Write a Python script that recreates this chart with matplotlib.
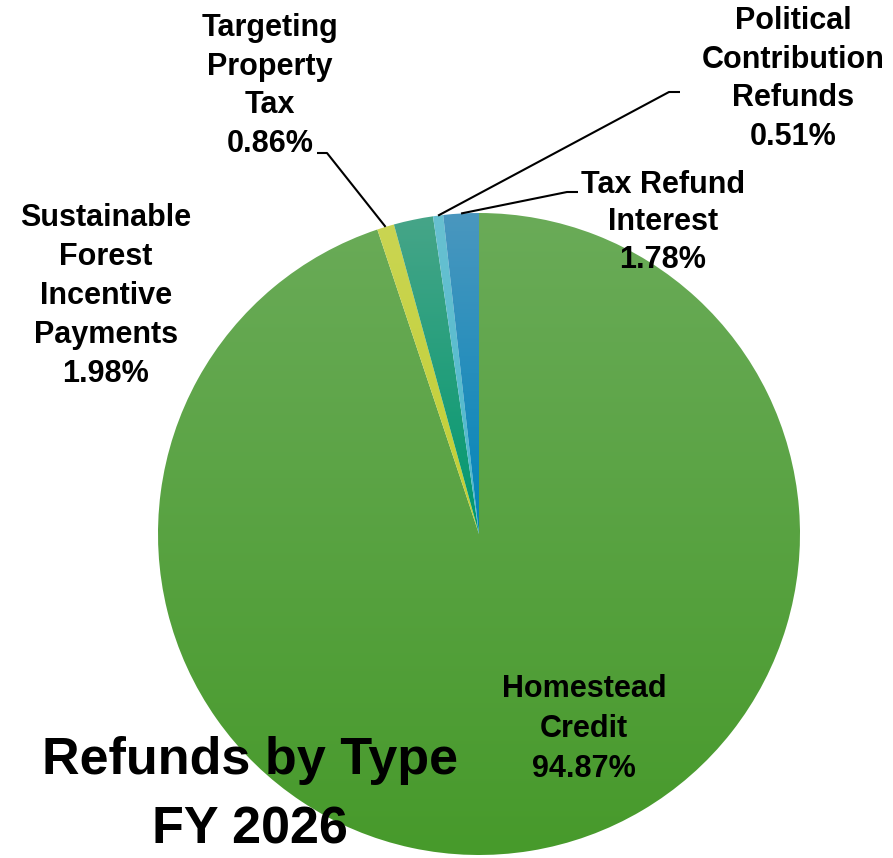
import matplotlib.pyplot as plt
import numpy as np
from matplotlib.colors import to_rgb

W, H = 893, 858

# Refund shares, in pie order (clockwise from 12 o'clock)
categories = [
    "Homestead\nCredit",
    "Targeting\nProperty\nTax",
    "Sustainable\nForest\nIncentive\nPayments",
    "Political\nContribution\nRefunds",
    "Tax Refund\nInterest",
]
shares = [94.87, 0.86, 1.98, 0.51, 1.78]

# vertical gradient per slice: light at the top, base colour at the bottom
top_colors = ["#6aab58", "#cad552", "#46a588", "#68c1d1", "#4a97bf"]
bottom_colors = ["#479a2b", "#c2cf33", "#00986f", "#4bb8cd", "#0085b9"]

title_lines = ["Refunds by Type", "FY 2026"]

# label block placement in pixels: centre x, first baseline y, line step
label_pos = [(584, 697, 40), (270, 36, 38.7), (106, 226, 39), (793, 29, 38.7), (663, 193, 37.5)]
# leader lines: (elbow, end) in pixels, None for labels without one
leaders = [None, ((327, 153), (317, 153)), None, ((669, 92), (680, 92)), ((567, 192), (578, 192))]

CENTER = (479, 534)
RADIUS = 321
FONT = "Liberation Sans"


def Y(y):
    return H - y


fig = plt.figure(figsize=(W / 100, H / 100), dpi=100)
ax = fig.add_axes([0, 0, 1, 1])
ax.set_xlim(0, W)
ax.set_ylim(0, H)
ax.axis("off")

wedges, _ = ax.pie(
    shares,
    startangle=90,
    counterclock=False,
    center=(CENTER[0], Y(CENTER[1])),
    radius=RADIUS,
    frame=False,
    wedgeprops=dict(linewidth=0),
)

for w, c_top, c_bot in zip(wedges, top_colors, bottom_colors):
    w.set_facecolor("none")
    ext = w.get_path().get_extents()
    t = np.linspace(0, 1, 256)[:, None]
    grad = (1 - t) * np.array(to_rgb(c_top)) + t * np.array(to_rgb(c_bot))
    img = ax.imshow(
        grad[:, None, :].repeat(2, axis=1),
        extent=(ext.x0, ext.x1, ext.y0, ext.y1),
        origin="upper",
        aspect="auto",
        interpolation="bilinear",
        zorder=1,
    )
    img.set_clip_path(w)

# category labels, one line at a time, with the share as the last line
for w, name, share, (cx, by, step), lead in zip(wedges, categories, shares, label_pos, leaders):
    lines = name.split("\n") + [f"{share:.2f}%"]
    for i, line in enumerate(lines):
        ax.text(cx, Y(by + i * step), line, ha="center", va="baseline",
                fontsize=22, fontweight="bold", family=FONT, zorder=4)
    if lead is not None:
        ang = np.deg2rad((w.theta1 + w.theta2) / 2)
        x0 = w.center[0] + w.r * np.cos(ang)
        y0 = w.center[1] + w.r * np.sin(ang)
        (ex, ey), (tx, ty) = lead
        ax.plot([x0, ex, tx], [y0, Y(ey), Y(ty)], color="black", lw=1.5,
                solid_capstyle="butt", zorder=3)

# title in the lower left corner, over the pie
for i, line in enumerate(title_lines):
    ax.text(250, Y(774 + i * 70), line, ha="center", va="baseline",
            fontsize=37.5, fontweight="bold", family=FONT, zorder=4)

ax.set_xlim(0, W)
ax.set_ylim(0, H)
fig.savefig("out.png", dpi=100, facecolor="white")
